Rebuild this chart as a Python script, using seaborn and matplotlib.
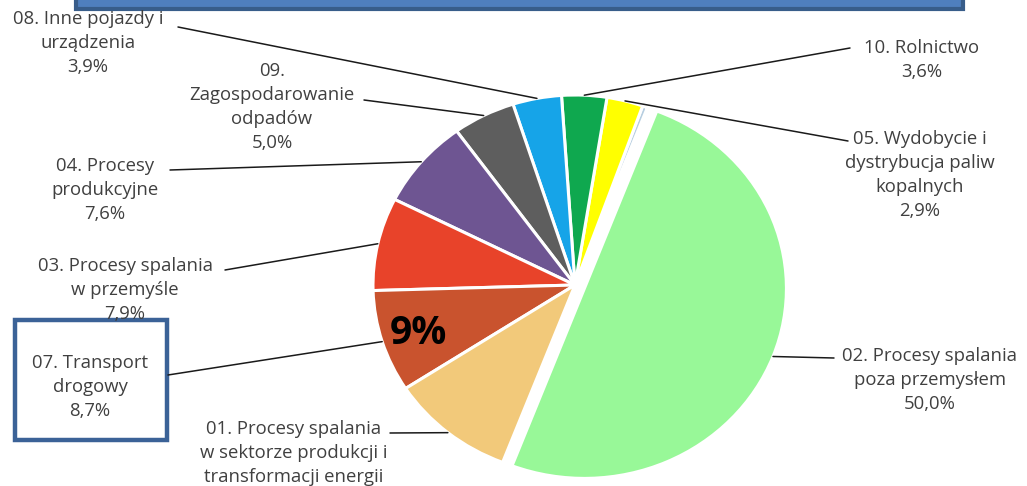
import numpy as np
import seaborn as sns
from matplotlib import pyplot as plt
from matplotlib.patches import Rectangle

# Sector shares (PM emissions, %), in drawing order (counterclockwise from 02)
sectors = ['02. Procesy spalania\npoza przemysłem',
           '06',
           '05. Wydobycie i\ndystrybucja paliw\nkopalnych',
           '10. Rolnictwo',
           '08. Inne pojazdy i\nurządzenia',
           '09.\nZagospodarowanie\nodpadów',
           '04. Procesy\nprodukcyjne',
           '03. Procesy spalania\nw przemyśle',
           '07. Transport\ndrogowy',
           '01. Procesy spalania\nw sektorze produkcji i\ntransformacji energii']
shares = [50.0, 0.4, 2.9, 3.6, 3.9, 5.0, 7.6, 7.9, 8.7, 10.0]
colors = ['#98F898', '#B7CEE0', '#FFFF00', '#0FA84F', '#16A4E8',
          '#5E5E5E', '#6E5592', '#E8432A', '#C9532E', '#F2C97A']
show_label = [True, False, True, True, True, True, True, True, True, True]
show_pct = [True, False, True, True, True, True, True, True, True, False]

W, H = 1027, 486

sns.set_theme(style='white')
plt.rcParams['font.family'] = ['Open Sans', 'DejaVu Sans']

fig = plt.figure(figsize=(10.27, 4.86), dpi=100)
ax = fig.add_axes([0, 0, 1, 1])   # overlay in pixel coordinates
ax.set_xlim(0, W)
ax.set_ylim(0, H)
ax.axis('off')

# pie axes: slightly wider than tall, like the original screenshot
cx, cy, rx, ry = 575, 285, 202, 190
ax_pie = fig.add_axes([(cx - rx) / W, (H - cy - ry) / H, 2 * rx / W, 2 * ry / H])
explode = [0.05 if s == sectors[0] else 0 for s in sectors]
wedges, _ = ax_pie.pie(shares, colors=colors, startangle=-111, counterclock=True,
                       radius=1, explode=explode,
                       wedgeprops=dict(edgecolor='white', linewidth=2.2))
ax_pie.set_xlim(-1, 1)
ax_pie.set_ylim(-1, 1)
ax_pie.set_aspect('auto')
ax_pie.axis('off')
ax_pie.set_zorder(1)
ax.set_zorder(2)

to_px = ax_pie.transData + ax.transData.inverted()

# label placement (pixels from the top): text centre, leader start
label_pos = {
    0: ((930, 380), (834, 358)),
    2: ((920, 175), (848, 141)),
    3: ((922, 60), (850, 48)),
    4: ((88, 43), (178, 27)),
    5: ((272, 107), (364, 100)),
    6: ((105, 190), (170, 170)),
    7: ((125, 290), (225, 270)),
    8: ((90, 387), (168, 375)),
    9: ((294, 453), (390, 433)),
}

for i, w in enumerate(wedges):
    if not show_label[i]:
        continue
    (tx, ty), (lx, ly) = label_pos[i]
    txt = sectors[i]
    if show_pct[i]:
        txt += '\n' + f'{shares[i]:.1f}'.replace('.', ',') + '%'
    ax.text(tx, H - ty, txt, ha='center', va='center',
            fontsize=13.3, color='#404040', linespacing=1.42)
    mid = np.deg2rad((w.theta1 + w.theta2) / 2)
    px, py = to_px.transform((w.center[0] + w.r * np.cos(mid),
                              w.center[1] + w.r * np.sin(mid)))
    ax.plot([lx, px], [H - ly, py], color='#1a1a1a', lw=1.1)

# highlighted value on road transport slice
ax.text(418, H - 333, '9%', ha='center', va='center', fontsize=28,
        fontweight='bold', color='black')

# box around the road transport label
ax.add_patch(Rectangle((15, H - 440), 152, 120, fill=False,
                       edgecolor='#3B6297', lw=3.2))

# title banner cut at the top edge
ax.add_patch(Rectangle((76, H - 9), 887, 30, facecolor='#4F7FBE',
                       edgecolor='#385D8A', lw=3, clip_on=False))

fig.savefig('out.png', dpi=100)
